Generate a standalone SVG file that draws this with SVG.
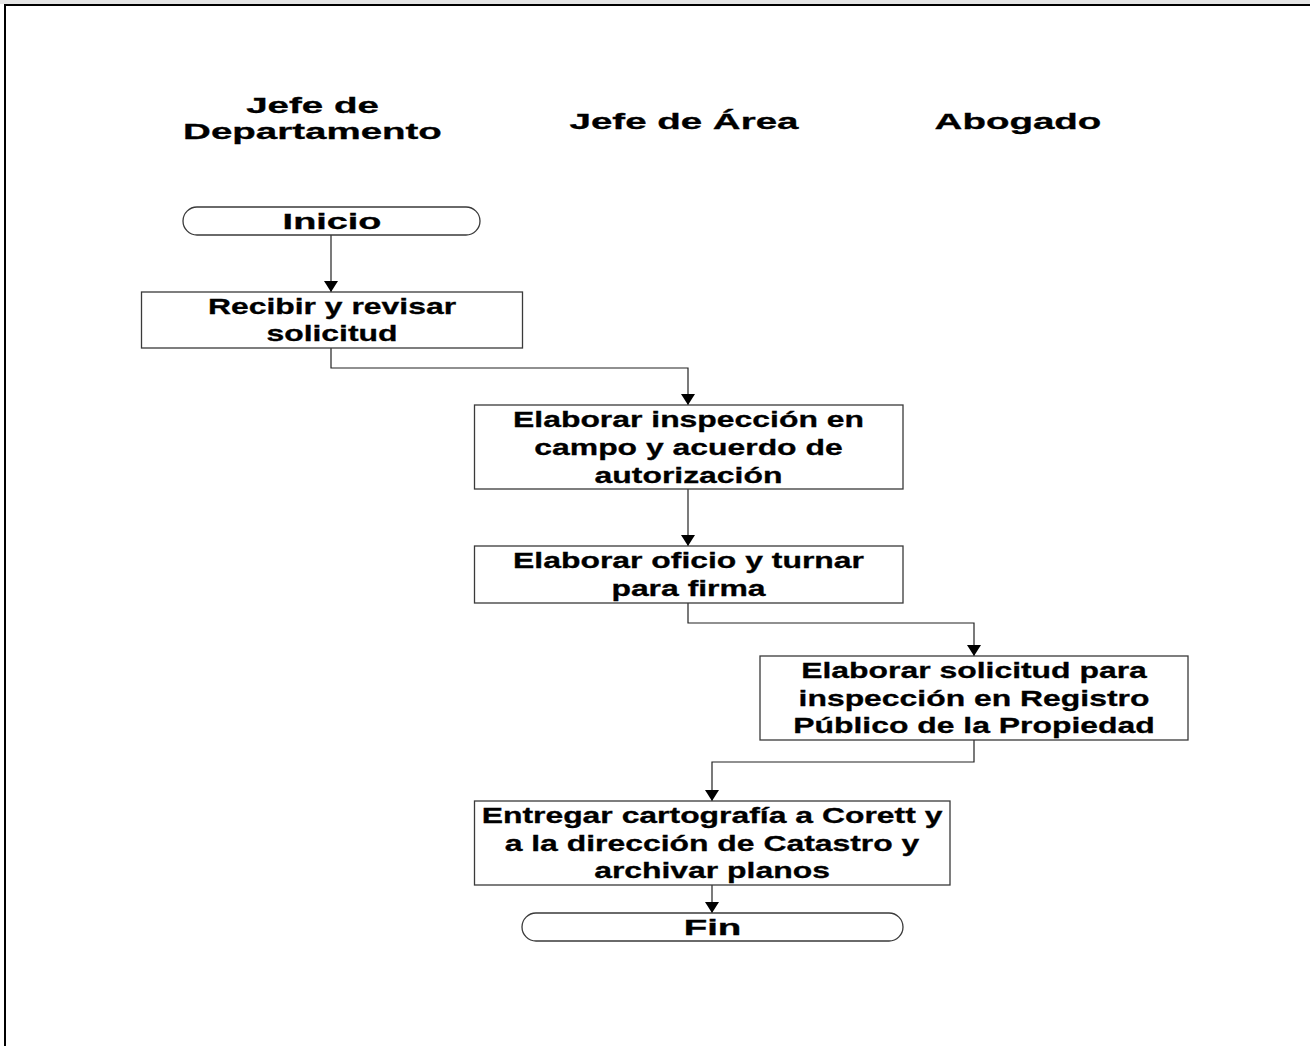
<svg xmlns="http://www.w3.org/2000/svg" width="1310" height="1046" viewBox="0 0 1310 1046">
<style>
.t{font-family:"Liberation Sans",Arial,sans-serif;font-weight:bold;font-size:22px;fill:#000;stroke:#000;stroke-width:0.3;text-anchor:middle}
.box{fill:#fff;stroke:#3a3a3a;stroke-width:1.3}
.term{fill:#fff;stroke:#3a3a3a;stroke-width:1.3}
.conn{fill:none;stroke:#222;stroke-width:1.2}
</style>
<defs>
<marker id="arr" viewBox="0 -7 11 14" refX="11" refY="0" markerWidth="11" markerHeight="14" markerUnits="userSpaceOnUse" orient="auto">
<path d="M0,-7 L11,0 L0,7 z" fill="#000"/>
</marker>
</defs>
<rect x="0" y="0" width="1310" height="1046" fill="#fff"/>
<g id="frame">
<rect x="0" y="0" width="1310" height="4" fill="#e4e4e4"/>
<line x1="4" y1="5" x2="1310" y2="5" stroke="#000" stroke-width="2"/>
<line x1="5" y1="4" x2="5" y2="1046" stroke="#000" stroke-width="2"/>
</g>
<g id="headers">
<text class="t" transform="translate(312.5,113) scale(1.75,1)">Jefe de</text>
<text class="t" transform="translate(312.5,139) scale(1.75,1)">Departamento</text>
<text class="t" transform="translate(684,129) scale(1.75,1)">Jefe de Área</text>
<text class="t" transform="translate(1018,129) scale(1.75,1)">Abogado</text>
</g>
<g id="connectors">
<path class="conn" d="M331,235 V292" marker-end="url(#arr)"/>
<path class="conn" d="M331,348 V368 H688 V405" marker-end="url(#arr)"/>
<path class="conn" d="M688,489 V546" marker-end="url(#arr)"/>
<path class="conn" d="M688,603 V623 H974 V656" marker-end="url(#arr)"/>
<path class="conn" d="M974,740 V762 H712 V801" marker-end="url(#arr)"/>
<path class="conn" d="M712,885 V913" marker-end="url(#arr)"/>
</g>
<g id="inicio">
<rect class="term" x="183" y="207" width="297" height="28" rx="14" ry="14"/>
<text class="t" transform="translate(332,228.5) scale(1.72,1)">Inicio</text>
</g>
<g id="recibir">
<rect class="box" x="141.5" y="292" width="381" height="56"/>
<text class="t" transform="translate(332,313.5) scale(1.45,1)">Recibir y revisar</text>
<text class="t" transform="translate(332,340.5) scale(1.45,1)">solicitud</text>
</g>
<g id="inspeccion">
<rect class="box" x="474.5" y="405" width="428.5" height="84"/>
<text class="t" transform="translate(688.5,427) scale(1.45,1)">Elaborar inspección en</text>
<text class="t" transform="translate(688.5,455) scale(1.45,1)">campo y acuerdo de</text>
<text class="t" transform="translate(688.5,482.5) scale(1.45,1)">autorización</text>
</g>
<g id="oficio">
<rect class="box" x="474.5" y="546" width="428.5" height="57"/>
<text class="t" transform="translate(688.5,567.5) scale(1.45,1)">Elaborar oficio y turnar</text>
<text class="t" transform="translate(688.5,595.5) scale(1.45,1)">para firma</text>
</g>
<g id="registro">
<rect class="box" x="760" y="656" width="428" height="84"/>
<text class="t" transform="translate(974,677.5) scale(1.45,1)">Elaborar solicitud para</text>
<text class="t" transform="translate(974,705.5) scale(1.45,1)">inspección en Registro</text>
<text class="t" transform="translate(974,733) scale(1.45,1)">Público de la Propiedad</text>
</g>
<g id="entregar">
<rect class="box" x="474.5" y="801" width="475.5" height="84"/>
<text class="t" transform="translate(712,822.5) scale(1.45,1)">Entregar cartografía a Corett y</text>
<text class="t" transform="translate(712,850.5) scale(1.45,1)">a la dirección de Catastro y</text>
<text class="t" transform="translate(712,878) scale(1.45,1)">archivar planos</text>
</g>
<g id="fin">
<rect class="term" x="522" y="913" width="381" height="28" rx="14" ry="14"/>
<text class="t" transform="translate(712.5,935) scale(1.75,1)">Fin</text>
</g>
</svg>
